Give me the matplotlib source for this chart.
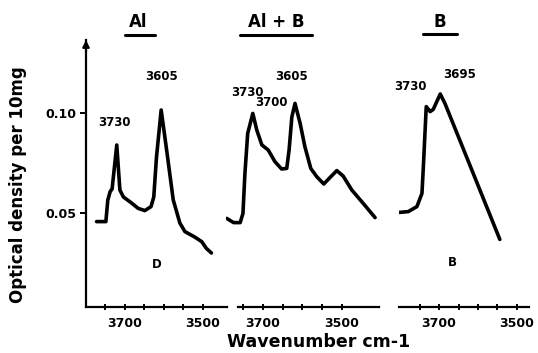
import matplotlib
matplotlib.use("Agg")
import matplotlib.pyplot as plt
from matplotlib.lines import Line2D

# panel D (Al)
al_wn = [3773, 3749, 3744, 3738, 3733, 3721, 3713, 3704, 3683, 3666, 3649, 3633,
         3626, 3619, 3607, 3593, 3576, 3559, 3546, 3521, 3503, 3491, 3478]
al_od = [0.0457, 0.0457, 0.0565, 0.0607, 0.062, 0.084, 0.0615, 0.058, 0.055, 0.0523,
         0.0512, 0.0532, 0.058, 0.078, 0.1015, 0.0815, 0.0565, 0.045, 0.0407, 0.038,
         0.0357, 0.0323, 0.030]

# panel Al + B
alb_wn = [3792, 3775, 3758, 3751, 3746, 3739, 3726, 3716, 3703, 3687, 3670, 3653,
          3640, 3634, 3627, 3619, 3606, 3594, 3579, 3564, 3546, 3530, 3513, 3497,
          3475, 3446, 3416]
alb_od = [0.0473, 0.0452, 0.0452, 0.0498, 0.0698, 0.0898, 0.0998, 0.0915, 0.084,
          0.0815, 0.0757, 0.072, 0.0723, 0.0815, 0.098, 0.1048, 0.0948, 0.0832,
          0.0723, 0.0682, 0.0645, 0.0678, 0.0712, 0.0685, 0.0615, 0.0548, 0.0477]

# panel B
b_wn = [3802, 3779, 3757, 3744, 3740, 3733, 3723, 3715, 3697, 3685, 3620, 3544]
b_od = [0.0503, 0.0507, 0.0532, 0.0598, 0.0748, 0.1032, 0.1007, 0.1018, 0.1095,
        0.1048, 0.0735, 0.0368]

titles = ["Al", "Al + B", "B"]
y_ticks = [0.05, 0.10]
y_ticklabels = ["0.05", "0.10"]
x_major = [3700, 3600, 3500]
x_major_labels = ["3700", "", "3500"]
x_minor = [3750, 3650, 3550]

W, H = 538, 353
fig = plt.figure(figsize=(W / 100, H / 100), dpi=100)


def box(x0, x1):
    return [x0 / W, 1 - 307 / H, (x1 - x0) / W, 267 / H]


ax1 = fig.add_axes(box(86, 227))
ax2 = fig.add_axes(box(226, 379))
ax3 = fig.add_axes(box(399, 529))

lims = [(3800, 3438), (3794, 3406), (3803, 3469)]
data = [(al_wn, al_od), (alb_wn, alb_od), (b_wn, b_od)]

for ax, (wn, od), lim in zip([ax1, ax2, ax3], data, lims):
    ax.plot(wn, od, color="black", lw=2.6, solid_capstyle="round", solid_joinstyle="round")
    ax.set_xlim(*lim)
    ax.set_ylim(0.003, 0.1365)
    ax.patch.set_visible(False)
    for s in ["top", "right"]:
        ax.spines[s].set_visible(False)
    ax.spines["bottom"].set_linewidth(1.6)
    ax.set_xticks(x_major)
    ax.set_xticklabels(x_major_labels)
    ax.set_xticks(x_minor, minor=True)
    ax.tick_params(axis="x", which="both", direction="inout", length=5, width=1.4,
                   labelsize=9, pad=5)
    for lab in ax.get_xticklabels():
        lab.set_fontweight("bold")

ax2.spines["bottom"].set_bounds(3763, 3406)

for ax in [ax2, ax3]:
    ax.spines["left"].set_visible(False)
    ax.set_yticks([])

ax1.spines["left"].set_linewidth(1.6)
ax1.set_yticks(y_ticks)
ax1.set_yticklabels(y_ticklabels, fontweight="bold")
ax1.tick_params(axis="y", direction="out", length=4, width=1.4, labelsize=9, pad=3)
ax1.annotate("", xy=(0, 1.0), xycoords="axes fraction", xytext=(0, 0.95),
             arrowprops=dict(arrowstyle="-|>", color="black", lw=1.5,
                             mutation_scale=10, shrinkA=0, shrinkB=0))

# peak labels
kw = dict(ha="center", va="center", fontsize=8.5, fontweight="bold")
ax1.text(3607, 0.118, "3605", **kw)
ax1.text(3728, 0.0955, "3730", **kw)
ax2.text(3739, 0.110, "3730", **kw)
ax2.text(3680, 0.105, "3700", **kw)
ax2.text(3629, 0.1185, "3605", **kw)
ax3.text(3774, 0.1135, "3730", **kw)
ax3.text(3646, 0.119, "3695", **kw)
ax1.text(3618, 0.0245, "D", **kw)
ax3.text(3667, 0.025, "B", **kw)

# panel titles with underlines
for t, xc, (u0, u1, uy) in zip(titles, [138, 276, 440],
                               [(125, 155, 35), (240, 312, 35), (423, 457, 34)]):
    fig.text(xc / W, 1 - 22 / H, t, ha="center", va="center", fontsize=12,
             fontweight="bold")
    fig.add_artist(Line2D([u0 / W, u1 / W], [1 - uy / H, 1 - uy / H],
                          color="black", lw=2.2, solid_capstyle="round"))

fig.text(18 / W, 1 - 185 / H, "Optical density per 10mg", rotation=90,
         ha="center", va="center", fontsize=12, fontweight="bold")
fig.text(319 / W, 1 - 342 / H, "Wavenumber cm-1", ha="center", va="center",
         fontsize=12.5, fontweight="bold")

fig.savefig("out.png", dpi=100)
